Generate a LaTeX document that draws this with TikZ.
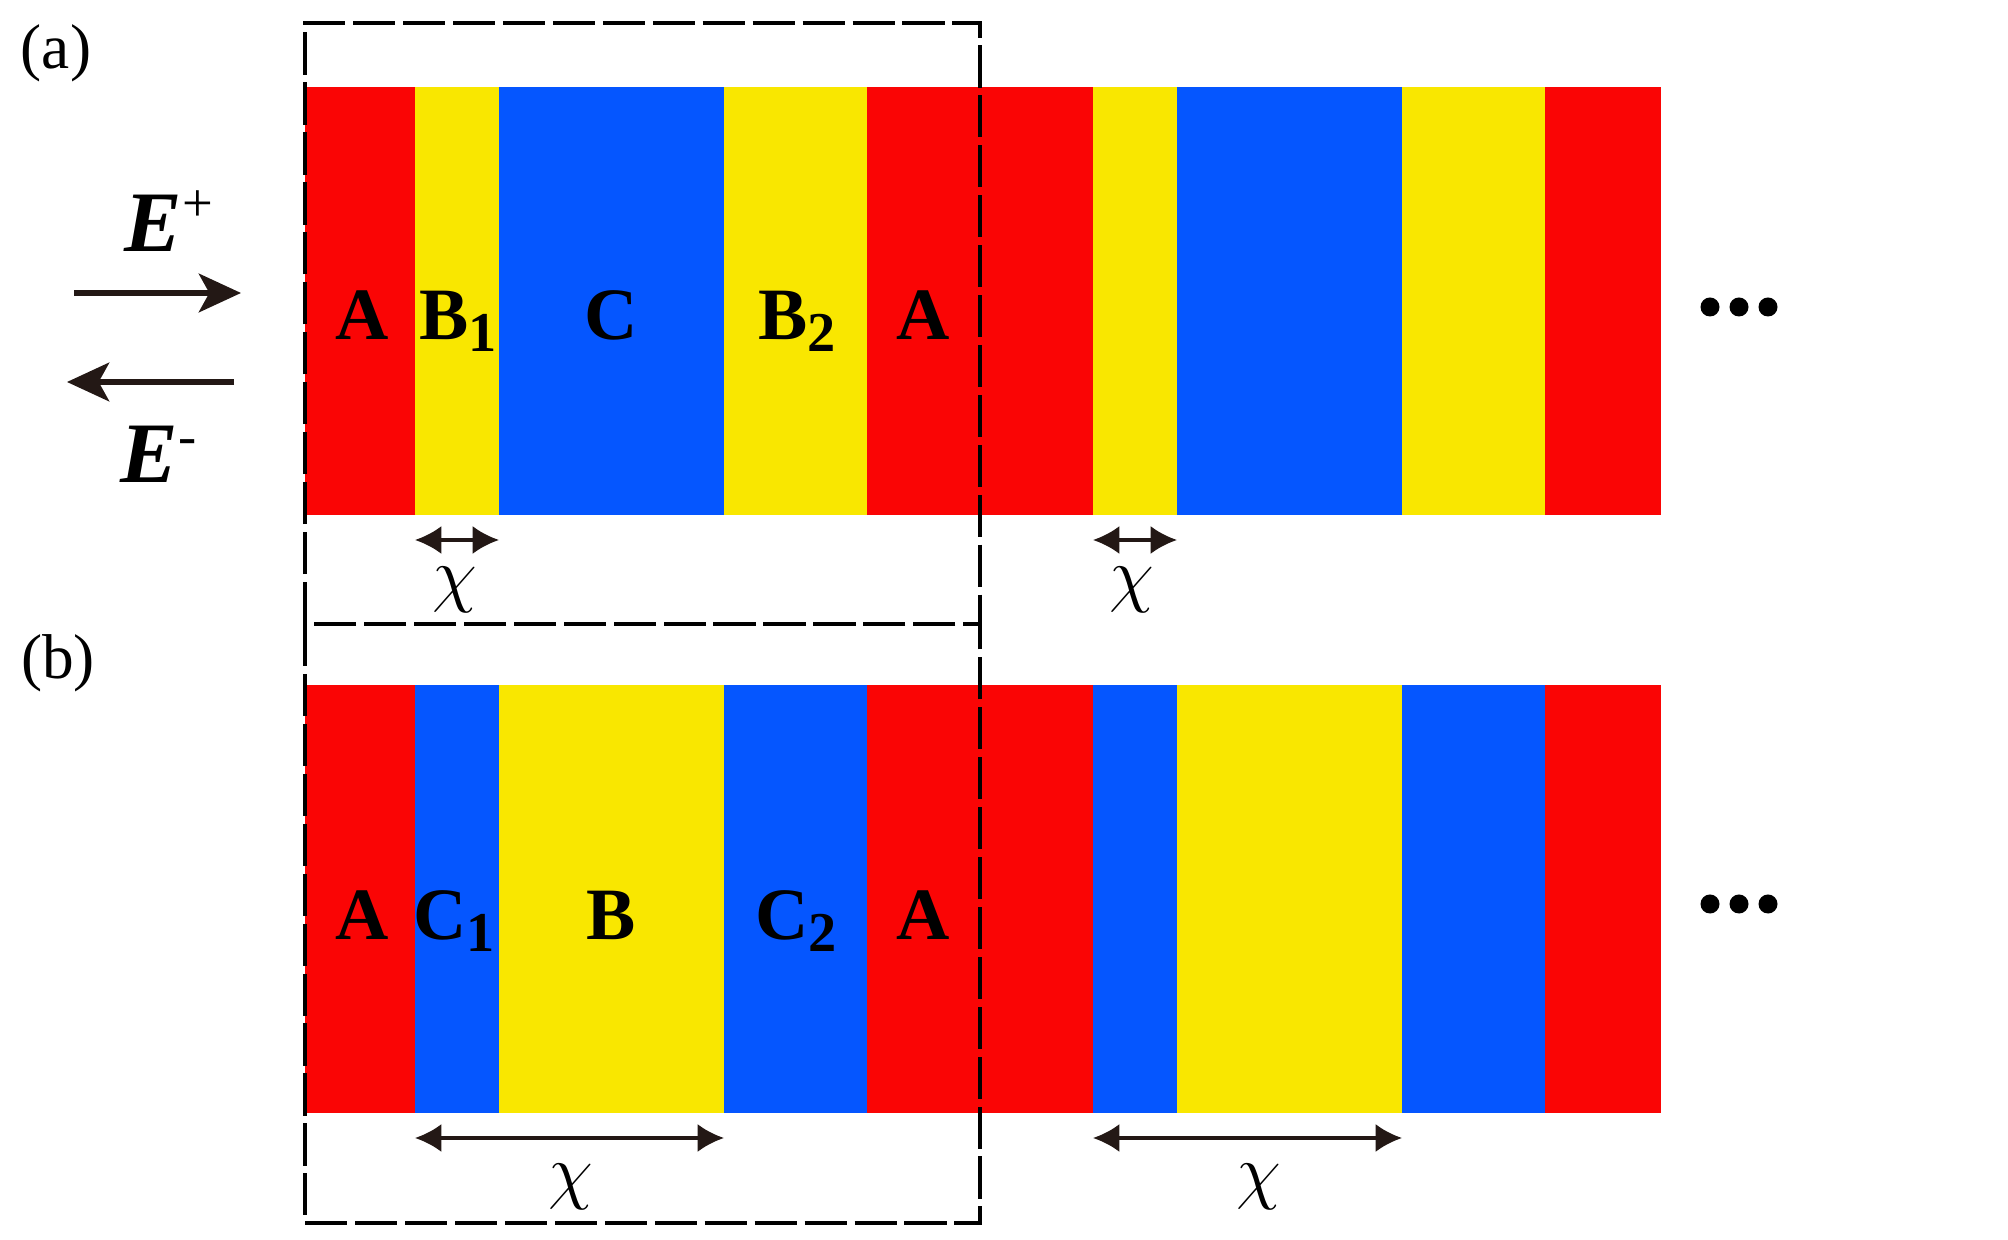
\documentclass[tikz,border=0pt]{standalone}
\usepackage{fontspec}
\setmainfont{Liberation Serif}
\usetikzlibrary{arrows.meta,positioning}
\definecolor{layerred}{RGB}{250,5,5}
\definecolor{layeryellow}{RGB}{249,231,0}
\definecolor{layerblue}{RGB}{5,86,255}
\definecolor{ink}{RGB}{35,24,21}
\tikzset{
  cellbox/.style  = {line width=0.9pt, dash pattern=on 12pt off 2.2pt},
  layertxt/.style = {inner sep=0pt, anchor=base, font=\fontsize{21}{21}\selectfont\bfseries},
  widthlbl/.style = {inner sep=0pt, font=\fontsize{19.5}{19.5}\selectfont},
  widtharr/.style = {{Latex[length=7.5pt,width=8pt]}-{Latex[length=7.5pt,width=8pt]}, line width=1pt, ink},
  fieldarr/.style = {-{Stealth[length=12pt,width=11pt,inset=3pt]}, line width=1.5pt, ink},
  fieldtxt/.style = {inner sep=0pt, anchor=base west, font=\fontsize{24.5}{24.5}\selectfont\bfseries\itshape},
  panel/.style    = {inner sep=0pt, font=\fontsize{18}{18}\selectfont},
}
\newcommand{\lsub}[1]{\raisebox{-3.4pt}{\fontsize{16}{16}\selectfont #1}}
\newcommand{\lsup}[2]{\raisebox{#1}{\fontsize{15.5}{15.5}\selectfont\mdseries\upshape #2}}

\begin{document}
\begin{tikzpicture}[x=0.01cm,y=-0.01cm]
\useasboundingbox (0,0) rectangle (2008,1240);
% (a) A B1 C B2 A ...
\fill[layerred]    (305,87)  rectangle (415,515);
\fill[layeryellow] (415,87)  rectangle (499,515);
\fill[layerblue]   (499,87)  rectangle (724,515);
\fill[layeryellow] (724,87)  rectangle (867,515);
\fill[layerred]    (867,87)  rectangle (1093,515);
\fill[layeryellow] (1093,87) rectangle (1177,515);
\fill[layerblue]   (1177,87) rectangle (1402,515);
\fill[layeryellow] (1402,87) rectangle (1545,515);
\fill[layerred]    (1545,87) rectangle (1661,515);
% (b) A C1 B C2 A ...
\fill[layerred]    (305,685)  rectangle (415,1113);
\fill[layerblue]   (415,685)  rectangle (499,1113);
\fill[layeryellow] (499,685)  rectangle (724,1113);
\fill[layerblue]   (724,685)  rectangle (867,1113);
\fill[layerred]    (867,685)  rectangle (1093,1113);
\fill[layerblue]   (1093,685) rectangle (1177,1113);
\fill[layeryellow] (1177,685) rectangle (1402,1113);
\fill[layerblue]   (1402,685) rectangle (1545,1113);
\fill[layerred]    (1545,685) rectangle (1661,1113);

% unit cells
\draw[cellbox] (305,624) -- (305,23) -- (980,23) -- (980,624);
\draw[cellbox] (305,624) rectangle (980,1223);

\node[panel] (pa) at (56,53) {(a)};
\node[panel] (pb) at (58,663) {(b)};

\node[layertxt] (a1) at (362,340) {A};
\node[layertxt] (a2) at (458,340) {B\lsub{1}};
\node[layertxt] (a3) at (611,340) {C};
\node[layertxt] (a4) at (797,340) {B\lsub{2}};
\node[layertxt] (a5) at (923,340) {A};

\node[layertxt] (b1) at (362,940) {A};
\node[layertxt] (b2) at (454,940) {C\lsub{1}};
\node[layertxt] (b3) at (611,940) {B};
\node[layertxt] (b4) at (796,940) {C\lsub{2}};
\node[layertxt] (b5) at (923,940) {A};

% incident and reflected fields
\node[fieldtxt] (ep) at (124,252) {E\lsup{8.6pt}{+}};
\node[fieldtxt] (em) at (120,483) {E\lsup{8pt}{-}};
\coordinate (inL) at (74,293);  \coordinate (inR) at (241,293);
\coordinate (reR) at (234,382); \coordinate (reL) at (67,382);
\draw[fieldarr] (inL) -- (inR);
\draw[fieldarr] (reR) -- (reL);

% thickness chi
\coordinate (xa1) at (415,540);  \coordinate (xa2) at (499,540);
\coordinate (xa3) at (1093,540); \coordinate (xa4) at (1177,540);
\coordinate (xb1) at (415,1138); \coordinate (xb2) at (724,1138);
\coordinate (xb3) at (1093,1138);\coordinate (xb4) at (1402,1138);
\draw[widtharr] (xa1) -- (xa2);
\draw[widtharr] (xa3) -- (xa4);
\draw[widtharr] (xb1) -- (xb2);
\draw[widtharr] (xb3) -- (xb4);
\node[widthlbl] (ca1) at (455,590)  {$\chi$};
\node[widthlbl] (ca2) at (1132,590) {$\chi$};
\node[widthlbl] (cb1) at (571,1187) {$\chi$};
\node[widthlbl] (cb2) at (1259,1187){$\chi$};

% and so on
\foreach \y in {307,904}{
  \fill (1710,\y) circle[radius=0.095cm];
  \fill (1739,\y) circle[radius=0.095cm];
  \fill (1768,\y) circle[radius=0.095cm];
}
\end{tikzpicture}
\end{document}
